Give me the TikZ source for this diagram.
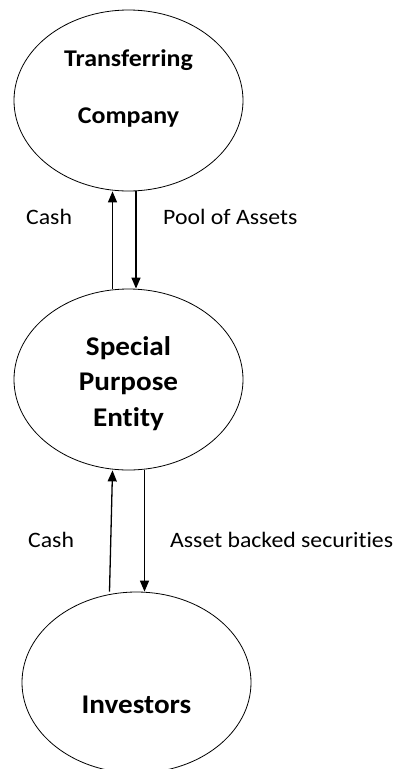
\documentclass[tikz,border=0pt]{standalone}
\usepackage{fontspec}
\setmainfont[FakeStretch=1.08, Ligatures=NoCommon]{Carlito}
\usetikzlibrary{arrows.meta, positioning, shapes.geometric}

\begin{document}
\begin{tikzpicture}[x=1pt, y=-1pt,
    party/.style={draw, ellipse, line width=0.8pt, minimum width=229pt, minimum height=181pt,
                  inner sep=0pt, align=center, text depth=0pt},
    arr/.style={-{Triangle[length=11pt, width=9pt]}, line width=1.3pt},
    lbl/.style={anchor=base west, inner sep=0pt, font=\fontsize{22}{26}\selectfont}
  ]
  \useasboundingbox (0,0) rectangle (399,769);

  % Parties
  \node[party, text height=45pt, font=\fontsize{24}{57}\selectfont\bfseries]
    (transfer) at (128.5,100.5) {Transferring\\Company};
  \node[party, text height=93pt, font=\fontsize{27}{35.5}\selectfont\bfseries]
    (spe) at (128.5,379.5) {Special\\Purpose\\Entity};
  \node[party, text height=61pt, font=\fontsize{27}{36}\selectfont\bfseries]
    (investors) at (136.5,682.5) {Investors};

  % Flows
  \draw[arr] ([xshift=-16pt]spe.north) -- ([xshift=-16pt]transfer.south);
  \draw[arr] ([xshift=7.5pt]transfer.south) -- ([xshift=7.5pt]spe.north);
  \draw[arr] ([xshift=-27pt]investors.north) -- ([xshift=-16pt]spe.south);
  \draw[arr] ([xshift=16pt]spe.south) -- ([xshift=8pt]investors.north);

  % Labels
  \node[lbl] (cashtop) at (26,224) {Cash};
  \node[lbl] (pool) at (163,224) {Pool of Assets};
  \node[lbl] (cashlow) at (28,547) {Cash};
  \node[lbl] (abs) at (170,547) {Asset backed securities};

\end{tikzpicture}
\end{document}
